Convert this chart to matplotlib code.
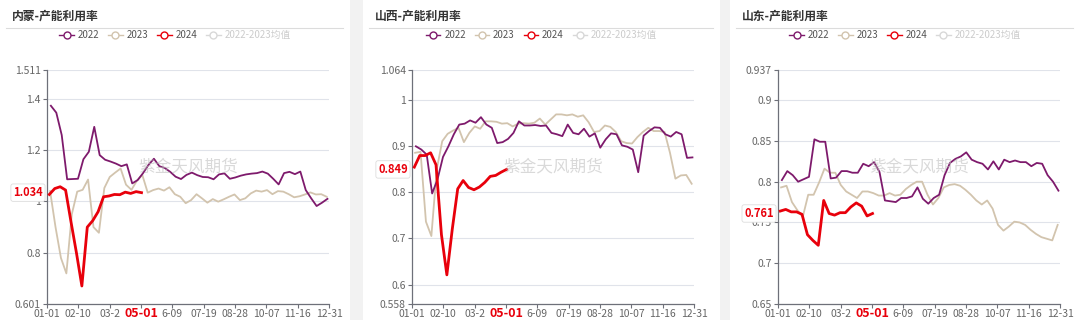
import numpy as np
import matplotlib.pyplot as plt
from matplotlib.lines import Line2D
from matplotlib.patches import Rectangle

plt.rcParams['font.family'] = ['Noto Sans CJK SC', 'DejaVu Sans']

# x axis (day of year) labels
tick_labels = ['01-01', '02-10', '03-2', '05-01', '6-09', '07-19', '08-28', '10-07', '11-16', '12-31']
legend_labels = ['2022', '2023', '2024', '2022-2023均值']

# 内蒙
nm_2022 = [1.372, 1.345, 1.258, 1.086, 1.087, 1.088, 1.164, 1.193, 1.29, 1.18, 1.162, 1.155, 1.147,
           1.137, 1.144, 1.070, 1.083, 1.11, 1.142, 1.166, 1.137, 1.130, 1.115, 1.096, 1.087, 1.103,
           1.112, 1.102, 1.095, 1.094, 1.086, 1.105, 1.109, 1.088, 1.093, 1.100, 1.105, 1.108, 1.110,
           1.116, 1.108, 1.088, 1.066, 1.110, 1.115, 1.106, 1.116, 1.044, 1.012, 0.982, 0.995, 1.010]
nm_2023 = [1.04, 0.90, 0.78, 0.72, 0.95, 1.038, 1.045, 1.085, 0.90, 0.878, 1.052, 1.095, 1.112,
           1.128, 1.065, 1.045, 1.08, 1.103, 1.034, 1.044, 1.050, 1.042, 1.055, 1.028, 1.018, 0.993,
           1.005, 1.028, 1.012, 0.995, 1.009, 0.999, 1.008, 1.018, 1.027, 1.005, 1.012, 1.031, 1.042,
           1.038, 1.044, 1.028, 1.040, 1.038, 1.028, 1.016, 1.020, 1.027, 1.035, 1.027, 1.028, 1.018]
nm_2024 = [1.027, 1.050, 1.057, 1.044, 0.92, 0.80, 0.671, 0.90, 0.925, 0.96, 1.018, 1.021, 1.027,
           1.026, 1.036, 1.031, 1.038, 1.034]
nm_yticks = [0.601, 0.8, 1.0, 1.2, 1.4, 1.511]
nm_ylabels = ['0.601', '0.8', '1', '1.2', '1.4', '1.511']

# 山西
sx_2022 = [0.899, 0.892, 0.881, 0.797, 0.828, 0.876, 0.899, 0.925, 0.946, 0.948, 0.955, 0.950, 0.962,
           0.946, 0.939, 0.906, 0.908, 0.915, 0.928, 0.953, 0.944, 0.944, 0.945, 0.943, 0.944, 0.928,
           0.925, 0.921, 0.946, 0.928, 0.925, 0.937, 0.920, 0.927, 0.896, 0.914, 0.927, 0.925, 0.901,
           0.898, 0.892, 0.843, 0.922, 0.932, 0.940, 0.939, 0.925, 0.920, 0.930, 0.925, 0.874, 0.875]
sx_2023 = [0.885, 0.887, 0.736, 0.705, 0.85, 0.910, 0.926, 0.933, 0.939, 0.908, 0.928, 0.942, 0.937,
           0.953, 0.953, 0.952, 0.948, 0.949, 0.942, 0.948, 0.949, 0.948, 0.950, 0.959, 0.946, 0.957,
           0.968, 0.968, 0.966, 0.968, 0.963, 0.966, 0.951, 0.930, 0.932, 0.944, 0.941, 0.930, 0.910,
           0.906, 0.905, 0.919, 0.930, 0.939, 0.932, 0.932, 0.930, 0.885, 0.829, 0.836, 0.837, 0.818]
sx_2024 = [0.854, 0.879, 0.879, 0.885, 0.859, 0.708, 0.621, 0.72, 0.807, 0.825, 0.810, 0.805, 0.811,
           0.821, 0.834, 0.836, 0.843, 0.849]
sx_yticks = [0.558, 0.6, 0.7, 0.8, 0.9, 1.0, 1.064]
sx_ylabels = ['0.558', '0.6', '0.7', '0.8', '0.9', '1', '1.064']

# 山东
sd_2022 = [0.802, 0.813, 0.808, 0.800, 0.803, 0.806, 0.852, 0.849, 0.849, 0.804, 0.805, 0.813, 0.813,
           0.811, 0.811, 0.822, 0.819, 0.824, 0.812, 0.777, 0.776, 0.775, 0.780, 0.780, 0.782, 0.793,
           0.779, 0.773, 0.780, 0.784, 0.808, 0.823, 0.828, 0.831, 0.836, 0.827, 0.824, 0.822, 0.815,
           0.825, 0.815, 0.827, 0.824, 0.826, 0.824, 0.824, 0.819, 0.823, 0.822, 0.808, 0.800, 0.789]
sd_2023 = [0.793, 0.795, 0.775, 0.765, 0.757, 0.784, 0.784, 0.799, 0.816, 0.811, 0.811, 0.796, 0.788,
           0.784, 0.780, 0.788, 0.788, 0.786, 0.783, 0.783, 0.786, 0.783, 0.784, 0.791, 0.796, 0.800,
           0.800, 0.784, 0.772, 0.780, 0.793, 0.796, 0.797, 0.795, 0.790, 0.784, 0.777, 0.772, 0.777,
           0.767, 0.747, 0.740, 0.745, 0.751, 0.750, 0.747, 0.741, 0.736, 0.732, 0.730, 0.728, 0.747]
sd_2024 = [0.764, 0.766, 0.763, 0.763, 0.760, 0.735, 0.728, 0.722, 0.777, 0.761, 0.759, 0.762, 0.762,
           0.769, 0.774, 0.770, 0.758, 0.761]
sd_yticks = [0.65, 0.7, 0.75, 0.8, 0.85, 0.9, 0.937]
sd_ylabels = ['0.65', '0.7', '0.75', '0.8', '0.85', '0.9', '0.937']

panels = [
    ('内蒙-产能利用率', nm_2022, nm_2023, nm_2024, nm_yticks, nm_ylabels, '1.034', 0, 350, 47, 329),
    ('山西-产能利用率', sx_2022, sx_2023, sx_2024, sx_yticks, sx_ylabels, '0.849', 363, 720, 412, 694),
    ('山东-产能利用率', sd_2022, sd_2023, sd_2024, sd_yticks, sd_ylabels, '0.761', 730, 1080, 778, 1060),
]

C22 = '#7e1a6c'
C23 = '#d2c4ae'
C24 = '#e8000b'
GRID = '#e0e3ea'
AX = '#6e7079'

W, H = 1080, 320
fig = plt.figure(figsize=(W / 100, H / 100), dpi=100)
fig.patch.set_facecolor('white')
# gray gaps between panels
for x0, x1 in [(350, 363), (720, 730)]:
    fig.patches.append(Rectangle((x0 / W, 0), (x1 - x0) / W, 1, transform=fig.transFigure,
                                 facecolor='#f2f2f2', edgecolor='none', zorder=0))

top, bottom = 70, 304
for title, y22, y23, y24, yt, yl, last, px0, px1, ax0, ax1 in panels:
    ax = fig.add_axes([ax0 / W, 1 - bottom / H, (ax1 - ax0) / W, (bottom - top) / H])
    d22 = 5 + 7 * np.arange(len(y22))
    d23 = 4 + 7 * np.arange(len(y23))
    d24 = 3 + 7 * np.arange(len(y24))
    ax.plot(d23, y23, color=C23, lw=1.3, zorder=3)
    ax.plot(d22, y22, color=C22, lw=1.3, zorder=4)
    ax.plot(d24, y24, color=C24, lw=2.0, zorder=5)

    ax.set_xlim(0, 364)
    ax.set_ylim(yt[0], yt[-1])
    ax.set_yticks(yt)
    ax.set_yticklabels(yl)
    ax.set_xticks(np.linspace(0, 364, len(tick_labels)))
    ax.set_xticklabels(tick_labels)
    ax.tick_params(axis='both', labelsize=7.5, colors=AX, labelcolor='#666666', length=3, width=0.8, pad=1.5)
    ax.tick_params(axis='x', pad=6.5)
    for lab in ax.get_xticklabels():
        lab.set_verticalalignment('baseline')
        if lab.get_text() == '05-01':
            lab.set_color(C24)
            lab.set_fontweight('bold')
            lab.set_fontsize(9)
    ax.grid(axis='y', color=GRID, lw=0.8)
    ax.set_axisbelow(True)
    for s in ['top', 'right']:
        ax.spines[s].set_visible(False)
    for s in ['left', 'bottom']:
        ax.spines[s].set_color(AX)
        ax.spines[s].set_linewidth(0.9)
    ax.set_facecolor('none')

    # latest value tag
    ax.annotate(last, xy=(0, y24[-1]), xycoords=('axes fraction', 'data'), xytext=(-3, 0),
                textcoords='offset points', ha='right', va='center', color=C24, fontsize=8,
                fontweight='bold', zorder=10,
                bbox=dict(boxstyle='round,pad=0.2', fc='white', ec='#dddddd', lw=0.6))

    # watermark
    ax.text(0.5, 0.585, '紫金天风期货', transform=ax.transAxes, ha='center', va='center',
            fontsize=12, color='#bbbbbb', alpha=0.55, zorder=8)

    # title and divider
    fig.text((px0 + 12) / W, 1 - 16 / H, title, fontsize=8.5, fontweight='bold', color='#333333',
             va='center', ha='left')
    fig.add_artist(Line2D([(px0 + 6) / W, (px1 - 7) / W], [1 - 28 / H, 1 - 28 / H],
                          transform=fig.transFigure, color='#dcdcdc', lw=0.8))

    handles = [Line2D([], [], color=c, lw=1, marker='o', markersize=5, markerfacecolor='white',
                      markeredgecolor=c, markeredgewidth=1)
               for c in [C22, C23, C24, '#d8d8d8']]
    leg = fig.legend(handles, legend_labels, loc='center', ncol=4, frameon=False,
                     bbox_to_anchor=((px0 + px1) / 2 / W, 1 - 35 / H), fontsize=7,
                     handlelength=1.5, handletextpad=0.4, columnspacing=0.9)
    for i, t in enumerate(leg.get_texts()):
        t.set_color('#cccccc' if i == 3 else '#555555')

fig.savefig('out.png', dpi=100)
